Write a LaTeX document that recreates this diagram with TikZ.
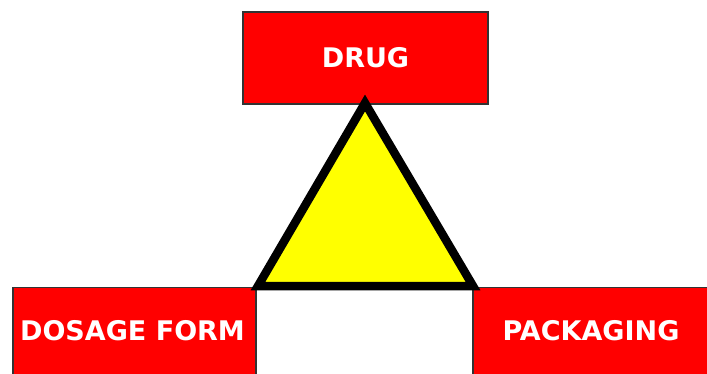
\documentclass[tikz,border=0pt]{standalone}
\usepackage{fontspec}
\setmainfont{DejaVu Sans}
\definecolor{boxred}{HTML}{FF0000}
\definecolor{triyellow}{HTML}{FFFF00}
\begin{document}
\begin{tikzpicture}[x=1pt,y=-1pt,
  redbox/.style={draw=black!80, line width=1.2pt, fill=boxred, text=white,
    font=\bfseries\fontsize{27}{32}\selectfont, inner sep=0pt, anchor=center},
  tri/.style={draw=black, line width=8.5pt, line join=miter, fill=triyellow}]
\useasboundingbox (0,0) rectangle (707,374);
\clip (0,0) rectangle (707,374);
\fill[white] (0,0) rectangle (707,374);
\node[redbox, minimum width=245pt, minimum height=92pt] (drug) at (365.5,58) {DRUG};
\node[redbox, minimum width=243pt, minimum height=87pt, anchor=north] (dosage) at (134.5,287) {\hspace*{-4pt}DOSAGE FORM};
\node[redbox, minimum width=240pt, minimum height=87pt, anchor=north] (pack) at (593,287) {\hspace*{-4pt}PACKAGING};
\coordinate (apex) at (365,103);
\coordinate (bl) at (258,286);
\coordinate (br) at (473,286);
\draw[tri] (apex) -- (bl) -- (br) -- cycle;
\end{tikzpicture}
\end{document}
